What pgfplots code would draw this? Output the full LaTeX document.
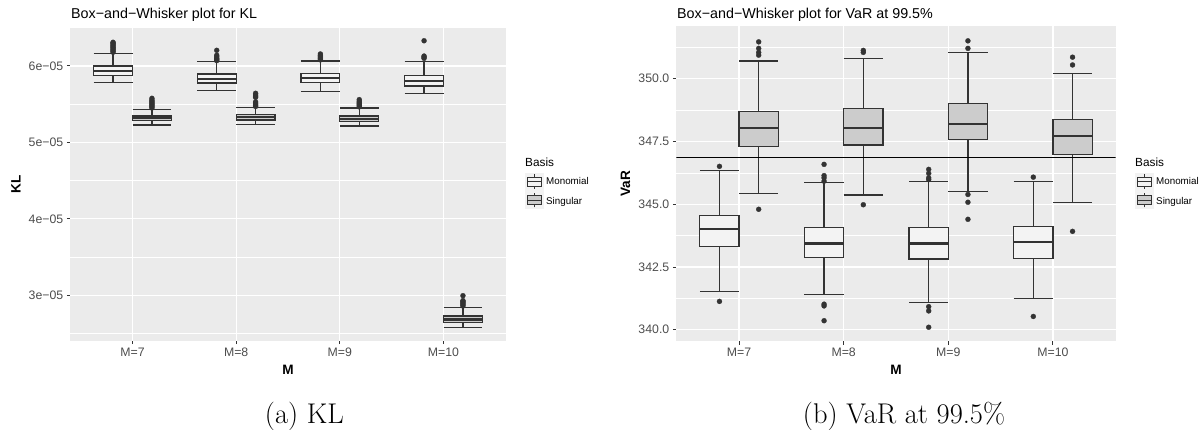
\documentclass[border=0pt]{standalone}
\usepackage{fontspec}
\usepackage{pgfplots}
\pgfplotsset{compat=1.18}
\newfontfamily\chartfont{Liberation Sans}
\definecolor{panelbg}{HTML}{EBEBEB}
\definecolor{grey20}{HTML}{333333}
\definecolor{grey30}{HTML}{4D4D4D}
\definecolor{monofill}{HTML}{F3F3F3}
\definecolor{singfill}{HTML}{CCCCCC}
\definecolor{keybg}{HTML}{F2F2F2}

\pgfplotsset{
  ggbase/.style={
    scale only axis,
    axis background/.style={fill=panelbg},
    axis line style={draw=none},
    xmin=0.4, xmax=4.6,
    xtick={1,2,3,4}, xticklabels={M=7,M=8,M=9,M=10},
    tick align=outside, tick pos=left,
    major tick length=3.5pt, minor tick length=0pt,
    every tick/.style={grey20, line width=1pt},
    grid=both,
    major grid style={white, line width=1.2pt},
    minor grid style={white, line width=0.6pt},
    ticklabel style={font=\chartfont\fontsize{12.3}{14}\selectfont, text=grey30},
  },
  ggline/.style={grey20, line width=1.2pt, mark=none},
  ggout/.style={only marks, mark=*, mark size=2.5pt,
    mark options={fill=grey20, draw=grey20, line width=0.3pt, solid}},
}

% box left x, centre x, box right x, lower whisker, lower quartile, median, upper quartile, upper whisker, fill
\newcommand{\ggbox}[9]{%
  \addplot[ggline] coordinates {(#1,#4) (#3,#4)};
  \addplot[ggline] coordinates {(#2,#4) (#2,#5)};
  \addplot[ggline] coordinates {(#2,#7) (#2,#8)};
  \addplot[ggline] coordinates {(#1,#8) (#3,#8)};
  \addplot[draw=grey20, fill=#9, line width=1.2pt, mark=none] coordinates {(#1,#5) (#3,#5) (#3,#7) (#1,#7)} --cycle;
  \addplot[grey20, line width=2.3pt, mark=none] coordinates {(#1,#6) (#3,#6)};
}

\newcommand{\legkey}[3]{% x, y (bottom), fill
  \fill[keybg] (#1,#2) rectangle ++(18.7,18);
  \draw[grey20, line width=1pt] (#1+9.35,#2+1.8) -- ++(0,14.4);
  \filldraw[draw=grey20, fill=#3, line width=1pt] (#1+2.3,#2+4.5) rectangle ++(14.1,9);
  \draw[grey20, line width=1pt] (#1+2.3,#2+9) -- ++(14.1,0);
}

\begin{document}
\begin{tikzpicture}[x=1pt,y=1pt]
\useasboundingbox (0,0) rectangle (1199,429);

% ---------------- Left panel: KL (values in units of 1e-05) ----------------
\begin{axis}[ggbase,
  at={(70.3pt,88.3pt)}, anchor=south west,
  width=435.4pt, height=313.4pt,
  ymin=2.406, ymax=6.506,
  ytick={3,4,5,6}, yticklabels={3e−05,4e−05,5e−05,6e−05},
  minor ytick={2.5,3.5,4.5,5.5,6.5},
]
\ggbox{0.625}{0.8125}{1.0}{5.78}{5.88}{5.935}{6.0}{6.166}{monofill}
\ggbox{1.0}{1.1875}{1.375}{5.228}{5.284}{5.32}{5.345}{5.433}{singfill}
\ggbox{1.625}{1.8125}{2.0}{5.68}{5.777}{5.834}{5.895}{6.057}{monofill}
\ggbox{2.0}{2.1875}{2.375}{5.237}{5.293}{5.328}{5.363}{5.459}{singfill}
\ggbox{2.625}{2.8125}{3.0}{5.664}{5.786}{5.839}{5.904}{6.065}{monofill}
\ggbox{3.0}{3.1875}{3.375}{5.215}{5.27}{5.31}{5.345}{5.45}{singfill}
\ggbox{3.625}{3.8125}{4.0}{5.637}{5.738}{5.808}{5.873}{6.057}{monofill}
\ggbox{4.0}{4.1875}{4.375}{2.583}{2.648}{2.684}{2.729}{2.84}{singfill}
\addplot[ggout] coordinates {
 (0.8125,6.18) (0.8125,6.195) (0.8125,6.21) (0.8125,6.225) (0.8125,6.24) (0.8125,6.255) (0.8125,6.27) (0.8125,6.285) (0.8125,6.30) (0.8125,6.31)
 (1.1875,5.45) (1.1875,5.465) (1.1875,5.48) (1.1875,5.495) (1.1875,5.51) (1.1875,5.525) (1.1875,5.54) (1.1875,5.555) (1.1875,5.577)
 (1.8125,6.07) (1.8125,6.08) (1.8125,6.09) (1.8125,6.10) (1.8125,6.12) (1.8125,6.14) (1.8125,6.205)
 (2.1875,5.47) (2.1875,5.485) (2.1875,5.50) (2.1875,5.515) (2.1875,5.53) (2.1875,5.59) (2.1875,5.605) (2.1875,5.62) (2.1875,5.643)
 (2.8125,6.08) (2.8125,6.095) (2.8125,6.11) (2.8125,6.125) (2.8125,6.14) (2.8125,6.157)
 (3.1875,5.465) (3.1875,5.48) (3.1875,5.495) (3.1875,5.51) (3.1875,5.525) (3.1875,5.54) (3.1875,5.56)
 (3.8125,6.10) (3.8125,6.115) (3.8125,6.13) (3.8125,6.33)
 (4.1875,2.86) (4.1875,2.875) (4.1875,2.89) (4.1875,2.905) (4.1875,2.92) (4.1875,2.93) (4.1875,2.995)
};
\end{axis}

% ---------------- Right panel: VaR ----------------
\begin{axis}[ggbase,
  at={(676.3pt,87.7pt)}, anchor=south west,
  width=439.4pt, height=315pt,
  ymin=339.54, ymax=352.09,
  ytick={340,342.5,345,347.5,350}, yticklabels={340.0,342.5,345.0,347.5,350.0},
  minor ytick={341.25,343.75,346.25,348.75,351.25},
]
\ggbox{0.625}{0.8125}{1.0}{341.51}{343.31}{344.01}{344.56}{346.36}{monofill}
\ggbox{1.0}{1.1875}{1.375}{345.43}{347.31}{348.05}{348.71}{350.71}{singfill}
\ggbox{1.625}{1.8125}{2.0}{341.39}{342.87}{343.44}{344.06}{345.86}{monofill}
\ggbox{2.0}{2.1875}{2.375}{345.37}{347.36}{348.05}{348.82}{350.81}{singfill}
\ggbox{2.625}{2.8125}{3.0}{341.08}{342.82}{343.44}{344.06}{345.90}{monofill}
\ggbox{3.0}{3.1875}{3.375}{345.51}{347.59}{348.21}{349.0}{351.06}{singfill}
\ggbox{3.625}{3.8125}{4.0}{341.26}{342.84}{343.49}{344.10}{345.91}{monofill}
\ggbox{4.0}{4.1875}{4.375}{345.08}{346.99}{347.73}{348.38}{350.22}{singfill}
\addplot[ggout] coordinates {
 (0.8125,346.51) (0.8125,341.13)
 (1.1875,350.94) (1.1875,351.05) (1.1875,351.21) (1.1875,351.47) (1.1875,344.80)
 (1.8125,345.92) (1.8125,346.05) (1.8125,346.14) (1.8125,346.59) (1.8125,341.02) (1.8125,340.95) (1.8125,340.36)
 (2.1875,351.05) (2.1875,351.13) (2.1875,344.98)
 (2.8125,345.98) (2.8125,346.05) (2.8125,346.23) (2.8125,346.39) (2.8125,340.92) (2.8125,340.75) (2.8125,340.10)
 (3.1875,351.21) (3.1875,351.51) (3.1875,345.39) (3.1875,345.08) (3.1875,344.40)
 (3.8125,346.08) (3.8125,340.53)
 (4.1875,350.55) (4.1875,350.86) (4.1875,343.92)
};
\addplot[black, line width=1.1pt, mark=none] coordinates {(0.4,346.87) (4.6,346.87)};
\end{axis}

% ---------------- Titles and axis labels ----------------
\node[anchor=base west, inner sep=0, font=\chartfont\fontsize{14.3}{16}\selectfont] at (71,410.7) {Box−and−Whisker plot for KL};
\node[anchor=base west, inner sep=0, font=\chartfont\fontsize{14.3}{16}\selectfont] at (677,410.7) {Box−and−Whisker plot for VaR at 99.5\%};
\node[anchor=base, inner sep=0, font=\chartfont\bfseries\fontsize{13.6}{15}\selectfont] at (288,55) {M};
\node[anchor=base, inner sep=0, font=\chartfont\bfseries\fontsize{13.6}{15}\selectfont] at (896,55) {M};
\node[rotate=90, inner sep=0, font=\chartfont\bfseries\fontsize{13.6}{15}\selectfont] at (16,245) {KL};
\node[rotate=90, inner sep=0, font=\chartfont\bfseries\fontsize{13.6}{15}\selectfont] at (625.5,245) {VaR};

% ---------------- Legends ----------------
\foreach \lx in {525,1135}{
  \node[anchor=base west, inner sep=0, font=\chartfont\fontsize{11.8}{13}\selectfont] at (\lx,262.3) {Basis};
  \legkey{\lx}{238.3}{monofill}
  \legkey{\lx}{219.8}{singfill}
  \node[anchor=base west, inner sep=0, font=\chartfont\fontsize{9.8}{11}\selectfont] at (\lx+21,244) {Monomial};
  \node[anchor=base west, inner sep=0, font=\chartfont\fontsize{9.8}{11}\selectfont] at (\lx+21,224.7) {Singular};
}

% ---------------- Sub-captions ----------------
\node[anchor=base, inner sep=0, font=\fontsize{28.5}{34}\selectfont] at (304.3,5.7) {(a) KL};
\node[anchor=base, inner sep=0, font=\fontsize{28.5}{34}\selectfont] at (904,5.7) {(b) VaR at 99.5\%};
\end{tikzpicture}
\end{document}
